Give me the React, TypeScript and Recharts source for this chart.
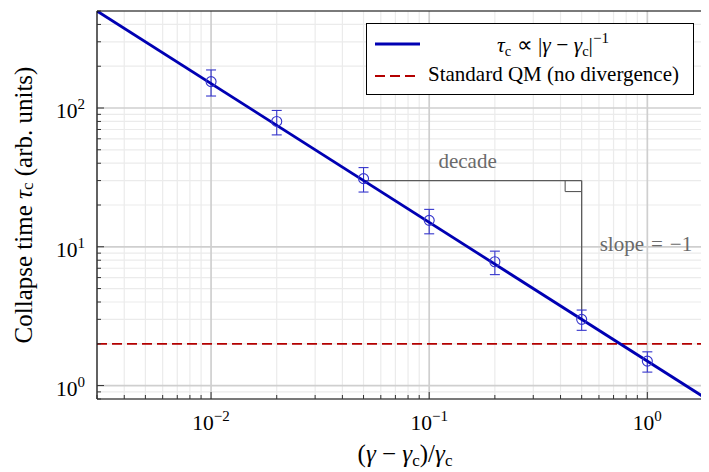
import React from 'react';
import {
  ComposedChart,
  Line,
  Scatter,
  XAxis,
  YAxis,
  CartesianGrid,
  ErrorBar,
  ReferenceLine,
  ReferenceDot,
  Legend,
  Label,
} from 'recharts';

// ---------- data ----------
const xDomain = [0.003, 2];
const yDomain = [0.8, 500];
const xMajorTicks = [0.01, 0.1, 1];
const xMinorTicks = [
  0.003, 0.004, 0.005, 0.006, 0.007, 0.008, 0.009,
  0.02, 0.03, 0.04, 0.05, 0.06, 0.07, 0.08, 0.09,
  0.2, 0.3, 0.4, 0.5, 0.6, 0.7, 0.8, 0.9, 2,
];
const yMajorTicks = [1, 10, 100];
const yMinorTicks = [
  0.8, 0.9, 2, 3, 4, 5, 6, 7, 8, 9,
  20, 30, 40, 50, 60, 70, 80, 90, 200, 300, 400, 500,
];

const gammaOffsets = [0.01, 0.02, 0.05, 0.1, 0.2, 0.5, 1.0];
const collapseTimes = [155, 80, 31, 15.5, 7.8, 3.0, 1.5];
const collapseErrors = [33, 16, 6.2, 3.1, 1.5, 0.5, 0.25];

const fitX = [0.003, 1.875];
const fitY = [500, 0.8];

const standardQMLevel = 2;

const decadeX = [0.05, 0.5];
const decadeY = [30, 3];
const rightAngleX = [0.42, 0.5];
const rightAngleY = [30, 25];
const decadeLabelAt = { x: 0.15, y: 30 };
const slopeLabelAt = { x: 0.5, y: 10 };

const fitLabel = 'fit';
const qmLabel = 'Standard QM (no divergence)';
const yAxisTitle = ['Collapse time ', 'τ', 'c', ' (arb. units)'];

// ---------- derived tables ----------
const points = gammaOffsets.map((x, i) => ({ x, y: collapseTimes[i], err: collapseErrors[i] }));
const fitLine = fitX.map((x, i) => ({ x, y: fitY[i] }));
const xAllTicks = [...xMinorTicks, ...xMajorTicks].sort((a, b) => a - b);
const yAllTicks = [...yMinorTicks, ...yMajorTicks].sort((a, b) => a - b);

const FONT = "'Liberation Serif','Times New Roman',Times,serif";
const BLUE_DARK = '#0000b3';
const BLUE = '#3434cc';
const RED = '#b30000';
const GREY = '#5a5a5a';
const TICK = '#333';

const isMajor = (v: number) => {
  const l = Math.log10(v);
  return Math.abs(l - Math.round(l)) < 1e-9;
};

const expText = (v: number) => {
  const e = Math.round(Math.log10(v));
  return e < 0 ? `\u2212${-e}` : `${e}`;
};

const TickLabel = ({ x, y, anchor, value }: any) => (
  <text x={x} y={y} textAnchor={anchor} fontFamily={FONT} fontSize={21.5} fill="#000">
    <tspan>10</tspan>
    <tspan dy={-9} fontSize={15}>{expText(value)}</tspan>
  </text>
);

const makeXTick = (side: 'bottom' | 'top') => (props: any) => {
  const { x, y, payload } = props;
  const major = isMajor(payload.value);
  const len = major ? 7 : 4;
  const dir = side === 'bottom' ? -1 : 1;
  return (
    <g>
      <line x1={x} x2={x} y1={y} y2={y + dir * len} stroke={TICK} strokeWidth={1} />
      {major && side === 'bottom' ? <TickLabel x={x} y={y + 31} anchor="middle" value={payload.value} /> : null}
    </g>
  );
};

const makeYTick = (side: 'left' | 'right') => (props: any) => {
  const { x, y, payload } = props;
  const major = isMajor(payload.value);
  const len = major ? 7 : 4;
  const dir = side === 'left' ? 1 : -1;
  return (
    <g>
      <line x1={x} x2={x + dir * len} y1={y} y2={y} stroke={TICK} strokeWidth={1} />
      {major && side === 'left' ? <TickLabel x={x - 12} y={y + 10} anchor="end" value={payload.value} /> : null}
    </g>
  );
};

const OpenCircle = (props: any) => {
  const { cx, cy } = props;
  return <circle cx={cx} cy={cy} r={5} fill="none" stroke={BLUE} strokeWidth={1.1} />;
};

const renderLegend = () => (
  <div style={{ width: 328, height: 72 }}>
    <svg width={328} height={72} style={{ display: 'block' }}>
      <rect x={0.5} y={0.5} width={327} height={71} fill="#fff" stroke="#000" strokeWidth={1} />
      <line x1={9} x2={54} y1={21} y2={21} stroke={BLUE_DARK} strokeWidth={2.8} />
      <text x={187} y={29} textAnchor="middle" fontFamily={FONT} fontSize={21.5} fill="#000">
        <tspan fontStyle="italic">τ</tspan>
        <tspan fontSize={14.5} dy={4}>c</tspan>
        <tspan dy={-4}>{' ∝ |'}</tspan>
        <tspan fontStyle="italic">γ</tspan>
        <tspan>{' − '}</tspan>
        <tspan fontStyle="italic">γ</tspan>
        <tspan fontSize={14.5} dy={4}>c</tspan>
        <tspan dy={-4}>|</tspan>
        <tspan fontSize={15} dy={-9}>−1</tspan>
      </text>
      <line x1={9} x2={50} y1={53} y2={53} stroke={RED} strokeWidth={1.8} strokeDasharray="10 5" />
      <text x={62} y={57.5} fontFamily={FONT} fontSize={21} fill="#000">{qmLabel}</text>
    </svg>
  </div>
);

const axisLineStyle = { stroke: '#000', strokeWidth: 1.2 };

export default function App() {
  return (
    <div style={{ width: 701, height: 464, overflow: 'hidden' }}>
      <ComposedChart
        width={712}
        height={464}
        margin={{ top: 2, right: 6, bottom: 72, left: 88 }}
        style={{ fontFamily: FONT }}
      >
        <XAxis xAxisId="main" dataKey="x" type="number" scale="log" domain={xDomain} allowDataOverflow
          ticks={xAllTicks} interval={0} height={1} tickSize={0} tickMargin={0} tickLine={false}
          tick={makeXTick('bottom')} axisLine={axisLineStyle}>
          <Label
            content={(p: any) => {
              const vb = p.viewBox || {};
              return (
                <text x={vb.x + vb.width / 2} y={vb.y + 63} textAnchor="middle" fontFamily={FONT} fontSize={25} fill="#000">
                  <tspan>(</tspan>
                  <tspan fontStyle="italic">γ</tspan>
                  <tspan>{' − '}</tspan>
                  <tspan fontStyle="italic">γ</tspan>
                  <tspan fontSize={17} dy={4}>c</tspan>
                  <tspan dy={-4}>)/</tspan>
                  <tspan fontStyle="italic">γ</tspan>
                  <tspan fontSize={17} dy={4}>c</tspan>
                </text>
              );
            }}
          />
        </XAxis>
        <XAxis xAxisId="top" orientation="top" type="number" scale="log" domain={xDomain} allowDataOverflow
          ticks={xAllTicks} interval={0} height={1} tickSize={0} tickMargin={0} tickLine={false}
          tick={makeXTick('top')} axisLine={axisLineStyle} />
        <YAxis yAxisId="main" dataKey="y" type="number" scale="log" domain={yDomain} allowDataOverflow
          ticks={yAllTicks} interval={0} width={1} tickSize={0} tickMargin={0} tickLine={false}
          tick={makeYTick('left')} axisLine={axisLineStyle}>
          <Label
            content={(p: any) => {
              const vb = p.viewBox || {};
              const cx = vb.x - 73;
              const cy = vb.y + vb.height / 2;
              return (
                <text x={cx} y={cy} transform={`rotate(-90 ${cx} ${cy})`} textAnchor="middle"
                  dominantBaseline="central" fontFamily={FONT} fontSize={25} fill="#000">
                  <tspan>{yAxisTitle[0]}</tspan>
                  <tspan fontStyle="italic">{yAxisTitle[1]}</tspan>
                  <tspan fontSize={17} dy={4}>{yAxisTitle[2]}</tspan>
                  <tspan dy={-4}>{yAxisTitle[3]}</tspan>
                </text>
              );
            }}
          />
        </YAxis>
        <YAxis yAxisId="right" orientation="right" type="number" scale="log" domain={yDomain} allowDataOverflow
          ticks={yAllTicks} interval={0} width={1} tickSize={0} tickMargin={0} tickLine={false}
          tick={makeYTick('right')} axisLine={axisLineStyle} />

        {/* grids */}
        <CartesianGrid xAxisId="main" yAxisId="main" stroke="#ebebeb" strokeWidth={1.2}
          horizontalValues={yMinorTicks} verticalValues={xMinorTicks} />
        <CartesianGrid xAxisId="main" yAxisId="main" stroke="#cfcfcf" strokeWidth={1.7}
          horizontalValues={yMajorTicks} verticalValues={xMajorTicks} />

        {/* standard QM level */}
        <ReferenceLine xAxisId="main" yAxisId="main" y={standardQMLevel} stroke={RED} strokeWidth={1.8}
          strokeDasharray="10 5" />

        {/* slope triangle */}
        <ReferenceLine xAxisId="main" yAxisId="main" stroke={GREY} strokeWidth={1.3}
          segment={[{ x: decadeX[0], y: decadeY[0] }, { x: decadeX[1], y: decadeY[0] }]} />
        <ReferenceLine xAxisId="main" yAxisId="main" stroke={GREY} strokeWidth={1.3}
          segment={[{ x: decadeX[1], y: decadeY[0] }, { x: decadeX[1], y: decadeY[1] }]} />
        <ReferenceLine xAxisId="main" yAxisId="main" stroke={GREY} strokeWidth={1.1}
          segment={[{ x: rightAngleX[0], y: rightAngleY[0] }, { x: rightAngleX[0], y: rightAngleY[1] }]} />
        <ReferenceLine xAxisId="main" yAxisId="main" stroke={GREY} strokeWidth={1.1}
          segment={[{ x: rightAngleX[0], y: rightAngleY[1] }, { x: rightAngleX[1], y: rightAngleY[1] }]} />
        <ReferenceDot xAxisId="main" yAxisId="main" x={decadeLabelAt.x} y={decadeLabelAt.y} r={0}
          fill="none" stroke="none"
          label={{
            content: (p: any) => {
              const vb = p.viewBox || {};
              return (
                <text x={vb.x} y={vb.y - 13} textAnchor="middle" fontFamily={FONT} fontSize={21} fill="#6a6a6a">
                  decade
                </text>
              );
            },
          }} />
        <ReferenceDot xAxisId="main" yAxisId="main" x={slopeLabelAt.x} y={slopeLabelAt.y} r={0}
          fill="none" stroke="none"
          label={{
            content: (p: any) => {
              const vb = p.viewBox || {};
              return (
                <text x={vb.x + 18} y={vb.y + 4} fontFamily={FONT} fontSize={21} fill="#6a6a6a">
                  {'slope\u2004=\u2004−1'}
                </text>
              );
            },
          }} />

        {/* data */}
        <Scatter xAxisId="main" yAxisId="main" data={points} dataKey="y" shape={OpenCircle}
          isAnimationActive={false} name="data" legendType="none">
          <ErrorBar dataKey="err" direction="y" width={5} stroke={BLUE} strokeWidth={1.1} isAnimationActive={false} />
        </Scatter>
        <Line xAxisId="main" yAxisId="main" data={fitLine} dataKey="y" type="linear" stroke={BLUE_DARK}
          strokeWidth={2.8} dot={false} activeDot={false} isAnimationActive={false} name={fitLabel} />

        <Legend content={renderLegend} layout="horizontal" verticalAlign="middle" align="center"
          wrapperStyle={{ left: 358, top: 15, width: 328, height: 72 }} />
      </ComposedChart>
    </div>
  );
}
